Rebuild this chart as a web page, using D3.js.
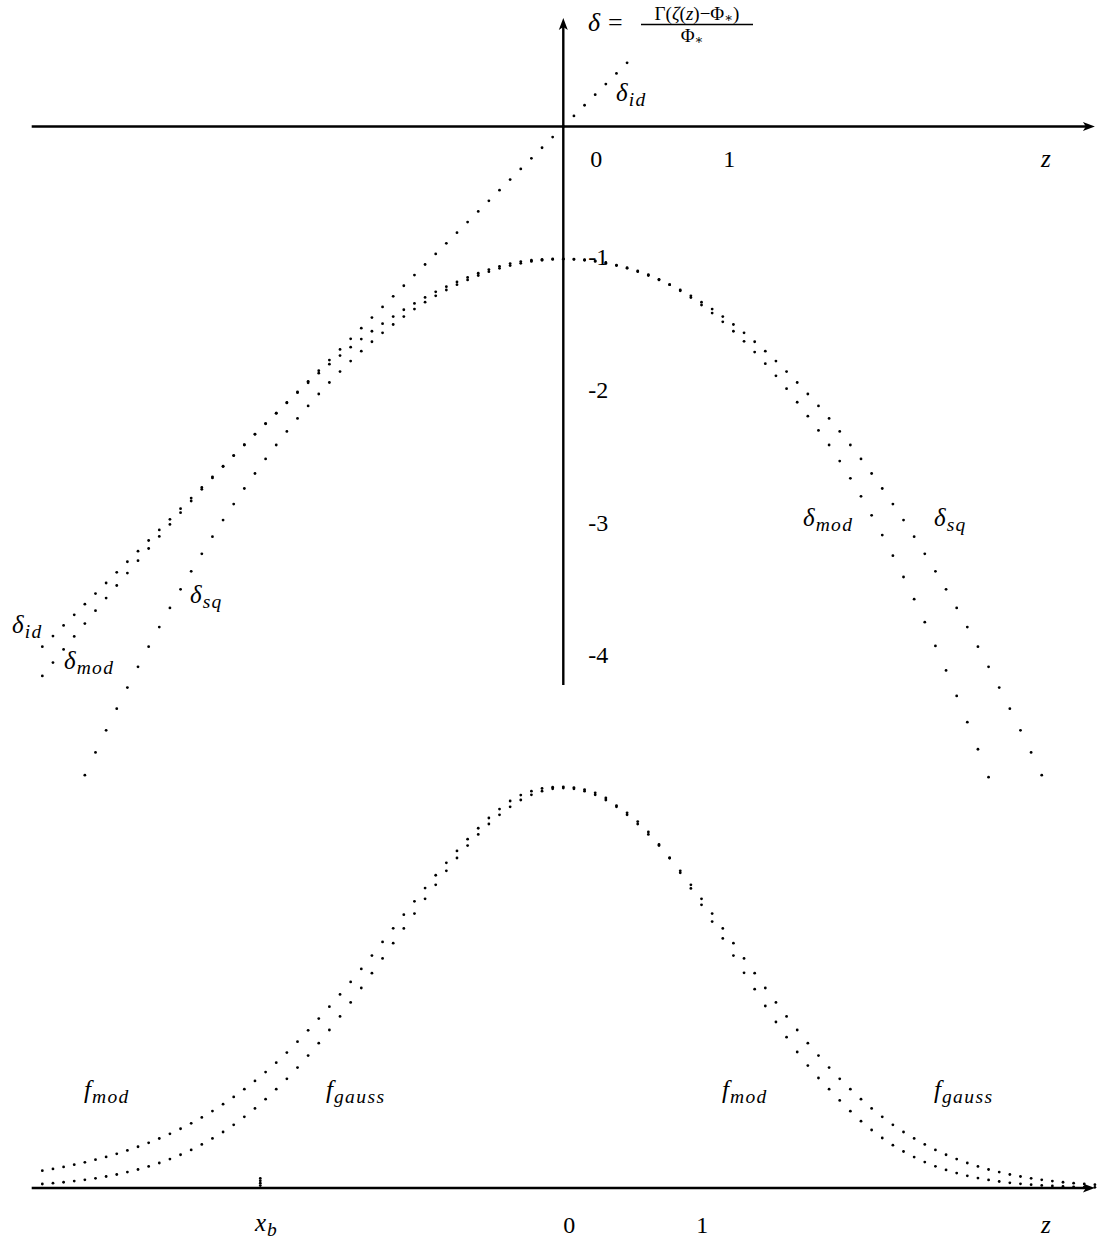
<!DOCTYPE html>
<html>
<head>
<meta charset="utf-8">
<script src="https://cdn.jsdelivr.net/npm/d3@7/dist/d3.min.js"></script>
<style>
  body { margin: 0; background: #fff; }
</style>
</head>
<body>
<svg id="chart"></svg>
<script>
// sample grid: every dot sits on z = zStart + i*zStep
const zStart = -3.92, zStep = 0.08

// delta curves (upper panel); each series starts at grid index *From
const deltaIdFrom = 0
const deltaId = [-3.92,-3.84,-3.76,-3.68,-3.60,-3.52,-3.44,-3.36,-3.28,-3.20,-3.12,-3.04,-2.96,-2.88,-2.80,-2.72,
  -2.64,-2.56,-2.48,-2.40,-2.32,-2.24,-2.16,-2.08,-2.00,-1.92,-1.84,-1.76,-1.68,-1.60,-1.52,-1.44,-1.36,-1.28,
  -1.20,-1.12,-1.04,-0.96,-0.88,-0.80,-0.72,-0.64,-0.56,-0.48,-0.40,-0.32,-0.24,-0.16,-0.08,0.00,0.08,0.16,0.24,
  0.32,0.40,0.48]

const deltaModFrom = 0
const deltaMod = [-4.140,-4.040,-3.941,-3.843,-3.746,-3.649,-3.554,-3.459,-3.365,-3.272,-3.180,-3.089,-2.999,
  -2.910,-2.822,-2.734,-2.648,-2.563,-2.480,-2.398,-2.318,-2.239,-2.161,-2.083,-2.006,-1.931,-1.859,-1.791,-1.726,
  -1.663,-1.602,-1.543,-1.486,-1.432,-1.381,-1.333,-1.288,-1.246,-1.207,-1.171,-1.137,-1.106,-1.078,-1.054,-1.033,
  -1.018,-1.008,-1.001,-0.998,-0.997,-0.999,-1.004,-1.012,-1.025,-1.045,-1.064,-1.088,-1.117,-1.152,-1.192,-1.238,
  -1.289,-1.345,-1.406,-1.472,-1.543,-1.619,-1.700,-1.787,-1.879,-1.976,-2.078,-2.183,-2.290,-2.400,-2.521,-2.651,
  -2.787,-2.930,-3.079,-3.234,-3.395,-3.562,-3.735,-3.914,-4.099,-4.291,-4.489,-4.693,-4.903]

const deltaSqFrom = 4
const deltaSq = [-4.888,-4.717,-4.550,-4.387,-4.228,-4.072,-3.920,-3.772,-3.628,-3.488,-3.352,-3.220,-3.091,
  -2.966,-2.845,-2.728,-2.615,-2.505,-2.400,-2.298,-2.200,-2.106,-2.016,-1.929,-1.847,-1.768,-1.693,-1.622,-1.555,
  -1.492,-1.432,-1.376,-1.324,-1.276,-1.232,-1.192,-1.156,-1.123,-1.094,-1.069,-1.048,-1.031,-1.017,-1.008,-1.002,
  -1.000,-1.002,-1.008,-1.017,-1.031,-1.048,-1.069,-1.094,-1.123,-1.156,-1.192,-1.232,-1.276,-1.324,-1.376,-1.432,
  -1.492,-1.555,-1.622,-1.693,-1.768,-1.847,-1.929,-2.016,-2.106,-2.200,-2.298,-2.400,-2.505,-2.615,-2.728,-2.845,
  -2.966,-3.091,-3.220,-3.352,-3.488,-3.628,-3.772,-3.920,-4.072,-4.228,-4.387,-4.550,-4.717,-4.888]

// distributions (lower panel)
const fModFrom = 0
const fMod = [0.0433,0.0478,0.0528,0.0583,0.0642,0.0707,0.0778,0.0855,0.0940,0.1031,0.1130,0.1238,0.1355,
  0.1481,0.1617,0.1765,0.1924,0.2095,0.2276,0.2471,0.2677,0.2897,0.3132,0.3386,0.3657,0.3942,0.4236,0.4534,
  0.4839,0.5153,0.5477,0.5810,0.6151,0.6492,0.6832,0.7168,0.7497,0.7819,0.8130,0.8428,0.8720,0.8994,0.9250,
  0.9474,0.9675,0.9822,0.9920,0.9990,1.0020,1.0030,1.0010,0.9960,0.9880,0.9750,0.9560,0.9380,0.9160,0.8900,
  0.8590,0.8250,0.7880,0.7490,0.7080,0.6660,0.6240,0.5810,0.5380,0.4970,0.4550,0.4150,0.3770,0.3400,0.3060,
  0.2750,0.2470,0.2190,0.1920,0.1670,0.1450,0.1250,0.1070,0.0912,0.0772,0.0649,0.0543,0.0451,0.0372,0.0305,
  0.0249,0.0202,0.0163,0.0130,0.0104,0.0082,0.0064,0.0050,0.0039,0.0030,0.0023,0.0018]

const fGaussFrom = 0
const fGauss = [0.0100,0.0120,0.0144,0.0172,0.0205,0.0243,0.0287,0.0338,0.0397,0.0463,0.0539,0.0625,0.0722,
  0.0831,0.0952,0.109,0.124,0.140,0.158,0.178,0.199,0.222,0.247,0.273,0.301,0.331,0.362,0.395,0.429,0.464,
  0.500,0.537,0.574,0.612,0.649,0.686,0.723,0.758,0.793,0.825,0.856,0.884,0.910,0.933,0.953,0.970,0.983,0.992,
  0.998,1.000,0.998,0.992,0.983,0.970,0.953,0.933,0.910,0.884,0.856,0.825,0.793,0.758,0.723,0.686,0.649,0.612,
  0.574,0.537,0.500,0.464,0.429,0.395,0.362,0.331,0.301,0.273,0.247,0.222,0.199,0.178,0.158,0.140,0.124,0.109,
  0.0952,0.0831,0.0722,0.0625,0.0539,0.0463,0.0397,0.0338,0.0287,0.0243,0.0205,0.0172,0.0144,0.0120,0.0100,0.0082]

// axis labels
const topXLabels = [{v: 0, t: "0"}, {v: 1, t: "1"}]
const topYLabels = [-1, -2, -3, -4]
const bottomXLabels = [{v: 0, t: "0"}, {v: 1, t: "1"}]
const xbValue = -2.28

const W = 1108, H = 1239
const serif = "'Liberation Serif', 'DejaVu Serif', 'Times New Roman', serif"
const svg = d3.select("#chart").attr("width", W).attr("height", H)
  .attr("font-family", serif)

// scales: same unit on both axes in the upper panel
const x = d3.scaleLinear().domain([-4, 4]).range([31.7, 1094.9])
const yTop = d3.scaleLinear().domain([0, -4]).range([126.5, 657.3])
const yBot = d3.scaleLinear().domain([0, 1]).range([1188, 788])

const zAt = (from, i) => zStart + (from + i) * zStep

function dots(values, from, yScale) {
  svg.append("g")
    .selectAll("circle")
    .data(values)
    .enter().append("circle")
    .attr("cx", (d, i) => x(zAt(from, i)))
    .attr("cy", d => yScale(d))
    .attr("r", 1.4)
    .attr("fill", "#000")
}

dots(deltaId, deltaIdFrom, yTop)
dots(deltaMod, deltaModFrom, yTop)
dots(deltaSq, deltaSqFrom, yTop)
dots(fMod, fModFrom, yBot)
dots(fGauss, fGaussFrom, yBot)

// x_b marker on lower axis (little stack of dots)
svg.append("g").selectAll("circle")
  .data([0.006, 0.012, 0.018, 0.024])
  .enter().append("circle")
  .attr("cx", x(xbValue))
  .attr("cy", d => yBot(d))
  .attr("r", 1.4)

// axes with arrows
function arrowRight(yPix) {
  const x1 = x(-4), x2 = x(4)
  svg.append("line").attr("x1", x1).attr("x2", x2 - 6).attr("y1", yPix).attr("y2", yPix)
    .attr("stroke", "#000").attr("stroke-width", 2.6)
  svg.append("path")
    .attr("d", `M${x2},${yPix} L${x2 - 12},${yPix - 4.5} L${x2 - 9},${yPix} L${x2 - 12},${yPix + 4.5} Z`)
    .attr("fill", "#000")
}
arrowRight(yTop(0))
arrowRight(yBot(0))

const x0 = x(0)
const yAxTop = 18, yAxBot = 685
svg.append("line").attr("x1", x0).attr("x2", x0).attr("y1", yAxBot).attr("y2", yAxTop + 6)
  .attr("stroke", "#000").attr("stroke-width", 2.4)
svg.append("path")
  .attr("d", `M${x0},${yAxTop} L${x0 - 4.5},${yAxTop + 12} L${x0},${yAxTop + 9} L${x0 + 4.5},${yAxTop + 12} Z`)
  .attr("fill", "#000")

// tick labels
const fs = 24
svg.append("g").selectAll("text").data(topXLabels).enter().append("text")
  .attr("x", d => x(d.v) + 33).attr("y", 167)
  .attr("text-anchor", "middle").attr("font-size", fs).text(d => d.t)
svg.append("g").selectAll("text").data(topYLabels).enter().append("text")
  .attr("x", x0 + 35).attr("y", d => yTop(d) + 6)
  .attr("text-anchor", "middle").attr("font-size", fs).text(d => String(d))
svg.append("g").selectAll("text").data(bottomXLabels).enter().append("text")
  .attr("x", d => x(d.v) + 6).attr("y", 1233)
  .attr("text-anchor", "middle").attr("font-size", fs).text(d => d.t)

function mathLabel(px, py, main, sub, size) {
  const s = size || 25
  const t = svg.append("text").attr("x", px).attr("y", py)
    .attr("font-size", s).attr("font-style", "italic")
  t.append("tspan").text(main)
  if (sub) t.append("tspan").attr("dy", 5).attr("dx", 1)
    .attr("font-size", s * 0.78).attr("letter-spacing", 1.4).text(sub)
  return t
}

mathLabel(1041, 167, "z")
mathLabel(1041, 1233, "z")
mathLabel(255, 1231, "x", "b")

mathLabel(616, 101, "δ", "id")
mathLabel(12, 633, "δ", "id")
mathLabel(64, 669, "δ", "mod")
mathLabel(190, 603, "δ", "sq")
mathLabel(803, 526, "δ", "mod")
mathLabel(934, 526, "δ", "sq")

mathLabel(84, 1098, "f", "mod")
mathLabel(326, 1098, "f", "gauss")
mathLabel(722, 1098, "f", "mod")
mathLabel(934, 1098, "f", "gauss")

// formula at the top of the vertical axis
const head = svg.append("g")
head.append("text").attr("x", 588).attr("y", 31).attr("font-size", 26).attr("font-style", "italic").text("δ")
head.append("text").attr("x", 608).attr("y", 31).attr("font-size", 26).text("=")
const num = head.append("text").attr("x", 697).attr("y", 20).attr("font-size", 19).attr("text-anchor", "middle")
num.append("tspan").text("Γ(")
num.append("tspan").attr("font-style", "italic").text("ζ")
num.append("tspan").text("(")
num.append("tspan").attr("font-style", "italic").text("z")
num.append("tspan").text(")−Φ")
num.append("tspan").attr("font-size", 13).attr("dy", 2).text("∗")
num.append("tspan").attr("dy", -2).text(")")
head.append("line").attr("x1", 641).attr("x2", 753).attr("y1", 24.5).attr("y2", 24.5)
  .attr("stroke", "#000").attr("stroke-width", 1.3)
const den = head.append("text").attr("x", 692).attr("y", 42).attr("font-size", 19).attr("text-anchor", "middle")
den.append("tspan").text("Φ")
den.append("tspan").attr("font-size", 13).attr("dy", 2).text("∗")
</script>
</body>
</html>
